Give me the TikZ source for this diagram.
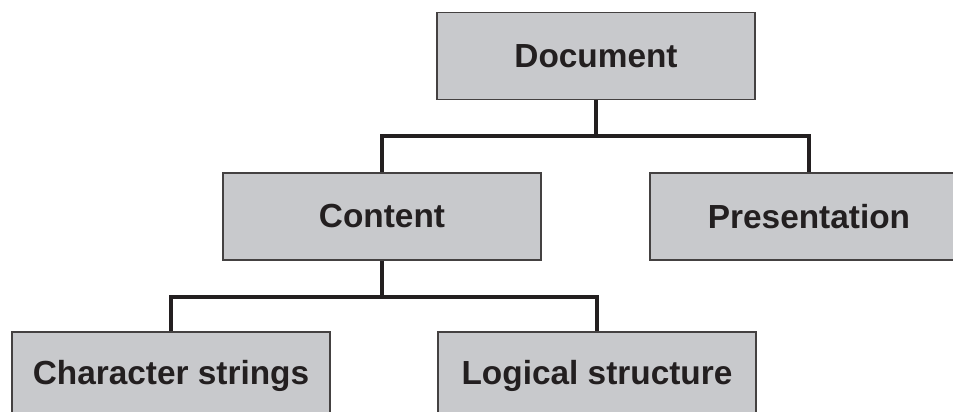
\documentclass[tikz,border=0pt]{standalone}
\usepackage{fontspec}
\setmainfont{Liberation Sans}
\usepackage{tikz}
\definecolor{boxgrey}{RGB}{200,201,204}
\definecolor{inkdark}{RGB}{35,31,32}
\tikzset{
	docbox/.style={draw=inkdark!85, line width=1.1pt, fill=boxgrey, inner sep=0pt,
		minimum width=6.36cm, minimum height=1.74cm, text=inkdark,
		font=\fontsize{19}{23}\selectfont\bfseries},
	branch/.style={draw=inkdark, line width=2.2pt}
}

\begin{document}
\begin{tikzpicture}[x=0.02cm, y=-0.02cm]
			%%%%% START %%%%%
			\useasboundingbox (0, 0) rectangle (953, 412);
			\clip (0, 0) rectangle (953, 412);
			
			\node[docbox] (doc) at (596, 56) {Document};
			
			\node[docbox] (cont) at (382, 216.5) {Content};
			\node[docbox] (pres) at (809, 216.5) {Presentation};
			
			\node[docbox] (chars) at (171, 375.5) {Character strings};
			\node[docbox] (logic) at (597, 375.5) {Logical structure};
			
			\coordinate (j1) at (doc.south |- 0, 136);
			\coordinate (j2) at (cont.south |- 0, 297);
			
			\draw[branch] (doc.south) -- (j1);
			\draw[branch] (cont.north) |- (j1) -| (pres.north);
			
			\draw[branch] (cont.south) -- (j2);
			\draw[branch] (chars.north) |- (j2) -| (logic.north);
			
			%%%%% END %%%%%
\end{tikzpicture}
\end{document}
